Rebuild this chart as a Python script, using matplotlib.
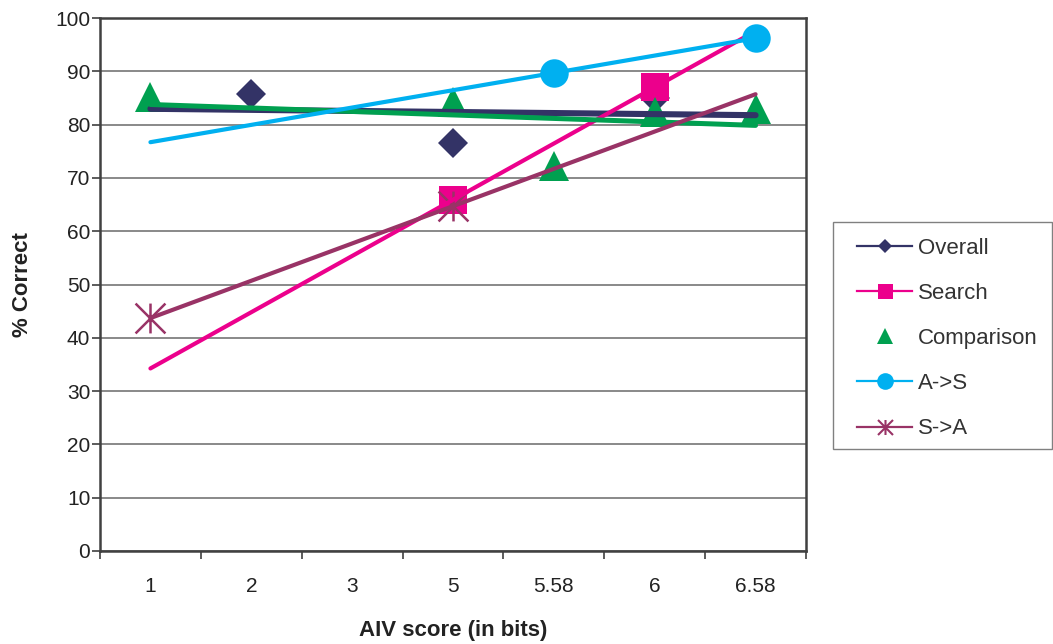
import numpy as np
import matplotlib
matplotlib.use("Agg")
import matplotlib.pyplot as plt
from matplotlib.lines import Line2D
from matplotlib.path import Path
from matplotlib.patches import Rectangle

plt.rcParams['font.family'] = ['Liberation Sans', 'DejaVu Sans']

# ---- data ----
categories = ["1", "2", "3", "5", "5.58", "6", "6.58"]
nan = np.nan
overall    = [nan, 85.7, nan, 76.5, nan, 84.9, nan]
search     = [nan, nan, nan, 65.9, nan, 87.0, nan]
comparison = [85.2, nan, nan, 84.3, 72.2, 82.4, 83.0]
a_to_s     = [nan, nan, nan, nan, 89.7, nan, 96.2]
s_to_a     = [43.7, nan, nan, 64.7, nan, nan, nan]

series_names = ["Overall", "Search", "Comparison", "A->S", "S->A"]
series_vals = [overall, search, comparison, a_to_s, s_to_a]
colors = ["#333366", "#EC008C", "#00A050", "#00B0F0", "#993366"]
trend_lw = [4.4, 3.0, 3.6, 3.0, 3.0]

asterisk = Path([(-1, -1), (1, 1), (-1, 1), (1, -1), (0, -1), (0, 1)],
                [Path.MOVETO, Path.LINETO, Path.MOVETO, Path.LINETO, Path.MOVETO, Path.LINETO])
markers = ["D", "s", "^", "o", asterisk]
msizes = [15.3, 20.5, 21, 20.5, 21.5]

fig = plt.figure(figsize=(10.53, 6.44), dpi=100)
ax = fig.add_axes([100/1053, (644-551)/644, 706/1053, 533/644])

x = np.arange(1, len(categories) + 1)
for i, (name, vals, c) in enumerate(zip(series_names, series_vals, colors)):
    v = np.array(vals, dtype=float)
    m = ~np.isnan(v)
    z = 5.5 if name == "A->S" else 3 + i * 0.1
    if name == "S->A":
        ax.plot(x[m], v[m], linestyle="none", marker=markers[i], ms=msizes[i],
                mec=c, mfc="none", mew=1.8, zorder=3.5)
    else:
        ax.plot(x[m], v[m], linestyle="none", marker=markers[i], ms=msizes[i],
                mec=c, mfc=c, mew=0, zorder=z)
    # linear trendline over the full category range
    k, b = np.polyfit(x[m], v[m], 1)
    xt = np.array([x[0], x[-1]], dtype=float)
    ax.plot(xt, k * xt + b, color=c, lw=trend_lw[i], solid_capstyle="round", zorder=4 + i * 0.1)

ax.set_xlim(0.5, len(categories) + 0.5)
ax.set_ylim(0, 100)
ax.set_xticks(x)
ax.set_xticklabels(categories)
ax.set_xticks(np.arange(0.5, len(categories) + 1, 1), minor=True)
ax.tick_params(axis="x", which="major", length=0, pad=18.5, labelsize=15, labelcolor="#222222")
ax.tick_params(axis="x", which="minor", length=6, width=1.2, color="#404040", direction="out")
ax.set_yticks(np.arange(0, 101, 10))
ax.tick_params(axis="y", length=6, width=1.2, color="#404040", direction="out", pad=1,
               labelsize=15, labelcolor="#222222")
ax.grid(axis="y", color="#808080", lw=1.3)
ax.set_axisbelow(True)
for s in ax.spines.values():
    s.set_color("#404040")
    s.set_linewidth(1.8)

ax.set_xlabel("AIV score (in bits)", fontsize=16, fontweight="bold", color="#222222", labelpad=17.5)
ax.set_ylabel("% Correct", fontsize=16, fontweight="bold", color="#222222", labelpad=16)

handles = []
leg_ms = [7.6, 10.8, 11.5, 12, 10.8]
for i, (name, c) in enumerate(zip(series_names, colors)):
    ls = "none" if name == "Comparison" else "-"
    if name == "S->A":
        h = Line2D([], [], color=c, lw=1.6, ls=ls, marker=markers[i], ms=leg_ms[i],
                   mec=c, mfc="none", mew=1.5)
    else:
        h = Line2D([], [], color=c, lw=1.6, ls=ls, marker=markers[i], ms=leg_ms[i],
                   mec=c, mfc=c, mew=0)
    handles.append(h)

leg = fig.legend(handles, series_names, loc="upper left",
                 bbox_to_anchor=(857/1053, (644-237.5)/644), fontsize=16,
                 frameon=False, handlelength=2.48, handletextpad=0.27,
                 labelspacing=1.09, borderpad=0, borderaxespad=0)
for t in leg.get_texts():
    t.set_color("#333333")

fig.patches.append(Rectangle((833/1053, (644-449)/644), (1052-833)/1053, (449-222)/644,
                             transform=fig.transFigure, fill=False,
                             edgecolor="#808080", lw=1.0))

fig.savefig("out.png", dpi=100)
